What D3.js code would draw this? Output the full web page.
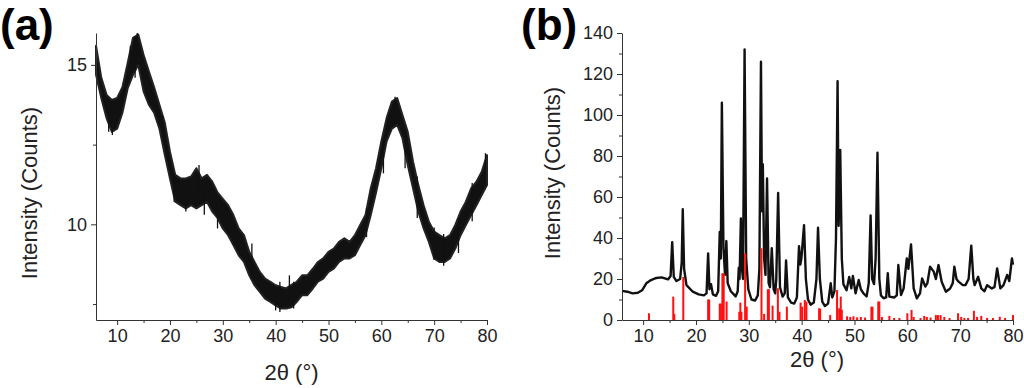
<!DOCTYPE html>
<html>
<head>
<meta charset="utf-8">
<script src="https://cdn.jsdelivr.net/npm/d3@7"></script>
<style>
  body { margin: 0; background: #fff; }
  svg { display: block; font-family: "Liberation Sans", Arial, sans-serif; }
  .axis path, .axis line { stroke: #333; }
  .axis text { fill: #222; font-size: 18px; }
  .title { fill: #222; font-size: 22px; }
  .panel { fill: #000; font-size: 44px; font-weight: bold; }
</style>
</head>
<body>
<svg id="chart" width="1024" height="388"></svg>
<script>
// ---- panel (a): noisy trace, read as a lower/upper envelope per degree
const aX = [6,7,8,9,10,11,12,13,14,15,16,17,18,19,20,21,22,23,24,25,26,27,28,29,30,31,32,33,34,35,36,37,38,39,40,41,42,43,
  44,45,46,47,48,49,50,51,52,53,54,55,56,57,58,59,60,61,62,63,64,65,66,67,68,69,70,71,72,73,74,75,76,77,78,79,80];
const aHigh = [15.6,14.6,14.06,13.9,13.96,14.3,15.06,15.85,15.95,15.32,14.8,14.3,13.75,13.2,12.28,11.55,11.44,11.44,11.5,11.76,11.44,11.55,11.34,11.0,10.8,10.6,10.29,9.87,9.66,9.14,8.82,8.51,8.3,8.2,8.09,8.04,7.99,8.1,
  8.2,8.4,8.4,8.6,8.82,8.93,9.14,9.24,9.45,9.56,9.45,9.66,9.98,10.29,11.13,11.76,12.6,13.33,13.85,13.96,13.43,12.9,11.97,11.23,10.6,10.08,9.77,9.66,9.56,9.66,9.98,10.4,10.71,11.13,11.34,11.65,12.17];
const aLow = [14.7,13.96,13.33,12.9,13.0,13.5,14.27,14.69,15.0,14.17,13.75,13.5,13.0,12.2,11.44,10.71,10.6,10.5,10.6,10.5,10.6,10.71,10.4,10.2,9.87,9.66,9.35,9.03,8.82,8.4,8.09,7.88,7.67,7.57,7.46,7.36,7.36,7.4,
  7.57,7.78,7.78,7.98,8.2,8.3,8.51,8.61,8.82,8.93,8.93,9.03,9.35,9.66,10.29,11.0,11.76,12.6,13.0,13.12,12.7,11.86,11.13,10.4,9.87,9.45,8.93,8.82,8.82,8.93,9.24,9.66,9.98,10.29,10.6,10.92,11.23];
// single noise spikes that stick out of the band: position, low end, high end
const aSpikeX = [8.4,9.1,12.5,13.4,13.8,18.6,20.8,23.0,25.5,26.5,29.0,32.1,35.5,40.0,40.8,42.6,43.4,
  57.2,60.4,62.6,64.5,66.8,70.0,71.8,74.6,77.2,79.7];
const aSpikeLo = [12.9,12.8,14.9,14.6,15.2,12.9,10.7,10.4,11.0,10.3,9.87,9.35,8.3,7.3,7.25,7.6,7.36,
  9.6,11.6,13.2,11.76,10.2,8.88,8.7,9.1,10.1,11.3];
const aSpikeHi = [13.8,13.9,15.6,15.9,16.0,13.4,11.6,11.3,11.86,11.2,10.8,10.1,9.4,8.0,8.2,8.4,8.2,
  10.5,12.7,14.0,12.6,11.5,9.9,9.7,10.2,11.3,12.23];
const aYTicks = [10, 15];
const aYMinor = [7.5, 12.5];

// ---- panel (b): measured pattern (black) and reference pattern (red sticks)
const bX = [6,7,8,9,9.8,10.6,11.5,12.5,13.5,14.7,15.2,15.5,15.8,16.3,17.0,17.3,17.5,17.75,18.2,19.4,20.5,21.5,22.0,22.3,22.55,22.85,23.2,23.8,
  24.2,24.5,24.7,24.9,25.2,25.5,25.75,26.0,26.6,27.5,27.9,28.1,28.25,28.5,28.7,28.9,29.2,29.5,29.9,30.5,31.2,31.7,32.0,32.3,32.5,32.65,32.9,33.15,33.45,33.75,
  34.0,34.35,34.7,35.0,35.2,35.55,35.9,36.4,36.8,37.05,37.4,38.0,38.6,39.1,39.5,39.75,39.95,40.45,40.8,41.2,41.7,42.3,42.8,43.1,43.45,43.9,44.4,45.0,45.5,45.8,
  46.2,46.5,46.8,47.0,47.3,47.6,47.9,48.5,49.0,49.4,49.7,50.2,50.8,51.2,51.7,52.3,52.7,53.05,53.35,53.7,54.0,54.35,54.7,55.0,55.5,56.0,56.3,56.6,57.5,58.0,
  58.3,58.8,59.3,59.9,60.2,60.7,61.2,61.8,62.4,62.8,63.4,63.8,64.3,65.0,65.4,65.9,66.5,67.3,68.1,68.6,68.9,69.3,69.7,70.5,71.0,71.6,72.1,72.5,72.75,73.4,
  74.0,74.6,75.1,76.0,76.5,77.0,77.6,78.2,78.9,79.3,79.8,80.0];
const bY = [14.2,13.8,13.0,13.3,14.5,17.9,19.5,20.5,20.8,19.8,21.5,38,21,19,20,28,54,25,17,13.8,12.5,12.0,13,32.5,15,17.5,12.5,11.8,
  14,43,30,106,35,22,38.5,18,14,11.5,14,25.5,20,49.5,25,20,132,30,15,10,9.5,12,25,126,53,76,30,22,69,18,
  16,35,15,13,20,62,16,11.4,13,29,11,8.5,8,11,36,27,30,46.3,20,10,7.5,8.5,20,45,20,9,6.8,8,17.9,11,
  14,40,116.5,46,83,30,17.5,14.5,21,15.5,21.5,13,19.5,15,13,11.5,18,51,20,17.5,30,81.6,20,12,10.6,11,22.8,11.4,11,12,
  26.8,12.2,15.4,30,25,36.9,15.4,10.6,13,20.3,16.3,18,26,23.6,20,26.8,18.7,13.8,15.4,18,26,20,18.7,17,17,20,36.3,20,17,21.1,
  15.4,14,17,15.4,16,25.2,15.4,17,22,19,30,27];
const refX = [11.1,15.7,15.9,17.6,22.3,22.5,24.5,24.7,25.0,25.25,25.8,28.2,28.4,28.6,29.3,29.6,32.4,32.9,33.6,33.8,34.5,35.5,35.8,37.2,39.8,40.1,40.6,40.9,
  43.3,43.5,45.4,46.7,47.1,47.4,47.6,48.6,49.2,49.8,50.5,51.2,52.0,53.2,53.4,54.5,54.7,55.2,56.6,57.5,58.5,60.0,60.8,61.2,62.5,63.2,63.7,64.4,65.4,65.8,
  66.3,67.0,68.0,69.6,70.2,70.8,71.5,72.6,73.2,74.0,75.1,76.2,77.5,78.5,80.0];
const refY = [3.3,11.4,3,21,10,10,8,8,22.8,22.8,9,4,8.5,4,32.5,6.5,35,3,15,15,7,15.5,4,6.5,8.5,6.5,9.8,9,
  5.7,5.5,2.4,14.6,5.7,11.4,5,1.8,1.5,1.8,1.3,1.5,1.2,6.5,6.5,9,9,1.5,2,1,1,3.3,4.9,1.5,1,2,1.5,1.2,2.4,2.4,
  2.4,1.5,1,3.3,1.5,1,1,4.5,1.5,2,1,1,1.6,1,2.4];
const bYTicks = [0,20,40,60,80,100,120,140];
const bYMinor = [10,30,50,70,90,110,130];

const xTicks = [10,20,30,40,50,60,70,80];
const xMinor = [15,25,35,45,55,65,75];
const X_DOMAIN = [6, 80];

const svg = d3.select("#chart");

const drawAxes = (g, xScale, yScale, yTicks, yMinor, H) => {
  g.append("g").attr("class", "axis")
    .attr("transform", "translate(0," + H + ")")
    .call(d3.axisBottom(xScale).tickValues(xTicks).tickSize(5).tickSizeOuter(0).tickPadding(4));
  g.append("g").attr("class", "axis")
    .attr("transform", "translate(0," + H + ")")
    .call(d3.axisBottom(xScale).tickValues(xMinor).tickSize(3).tickSizeOuter(0).tickFormat(""))
    .select(".domain").remove();
  g.append("g").attr("class", "axis")
    .call(d3.axisLeft(yScale).tickValues(yTicks).tickSize(5).tickSizeOuter(0).tickPadding(4));
  g.append("g").attr("class", "axis")
    .call(d3.axisLeft(yScale).tickValues(yMinor).tickSize(3).tickSizeOuter(0).tickFormat(""))
    .select(".domain").remove();
};

// ---------- panel (a)
{
  const L = 96, T = 33, W = 391, H = 287;
  const g = svg.append("g").attr("transform", "translate(" + L + "," + T + ")");
  const x = d3.scaleLinear().domain(X_DOMAIN).range([0, W]);
  const y = d3.scaleLinear().domain([7, 16]).range([H, 0]);

  const band = aX.map((d, i) => ({ x: d, lo: aLow[i], hi: aHigh[i] }));
  g.append("path")
    .datum(band)
    .attr("fill", "#111")
    .attr("stroke", "#222")
    .attr("stroke-width", 2)
    .attr("stroke-linejoin", "round")
    .attr("d", d3.area().x(d => x(d.x)).y0(d => y(d.lo)).y1(d => y(d.hi)));

  g.append("g").selectAll("line")
    .data(aSpikeX.map((d, i) => ({ x: d, lo: aSpikeLo[i], hi: aSpikeHi[i] })))
    .enter()
    .append("line")
    .attr("x1", d => x(d.x)).attr("x2", d => x(d.x))
    .attr("y1", d => y(d.lo)).attr("y2", d => y(d.hi))
    .attr("stroke", "#111")
    .attr("stroke-width", 1.3);

  drawAxes(g, x, y, aYTicks, aYMinor, H);

  svg.append("text").attr("class", "title")
    .attr("text-anchor", "middle")
    .attr("transform", "translate(37," + (T + 160) + ") rotate(-90)")
    .text("Intensity (Counts)");
  svg.append("text").attr("class", "title")
    .attr("text-anchor", "middle")
    .attr("x", L + W / 2).attr("y", 380)
    .text("2θ (°)");
  svg.append("text").attr("class", "panel")
    .attr("x", 0).attr("y", 40).text("(a)");
}

// ---------- panel (b)
{
  const L = 622, T = 33, W = 391, H = 287;
  const g = svg.append("g").attr("transform", "translate(" + L + "," + T + ")");
  const x = d3.scaleLinear().domain(X_DOMAIN).range([0, W]);
  const y = d3.scaleLinear().domain([0, 140]).range([H, 0]);

  g.append("path")
    .datum(bX.map((d, i) => [d, bY[i]]))
    .attr("fill", "none")
    .attr("stroke", "#111")
    .attr("stroke-width", 2.4)
    .attr("stroke-linejoin", "round")
    .attr("d", d3.line().x(d => x(d[0])).y(d => y(d[1])));

  g.append("g").selectAll("rect")
    .data(refX.map((d, i) => ({ x: d, v: refY[i] })))
    .enter()
    .append("rect")
    .attr("x", d => x(d.x) - 1)
    .attr("y", d => y(d.v))
    .attr("width", 2)
    .attr("height", d => H - y(d.v))
    .attr("fill", "#ff1010");

  drawAxes(g, x, y, bYTicks, bYMinor, H);

  svg.append("text").attr("class", "title")
    .attr("text-anchor", "middle")
    .attr("transform", "translate(560," + (T + 140) + ") rotate(-90)")
    .text("Intensity (Counts)");
  svg.append("text").attr("class", "title")
    .attr("text-anchor", "middle")
    .attr("x", 817).attr("y", 367)
    .text("2θ (°)");
  svg.append("text").attr("class", "panel")
    .attr("x", 521).attr("y", 40).text("(b)");
}
</script>
</body>
</html>
